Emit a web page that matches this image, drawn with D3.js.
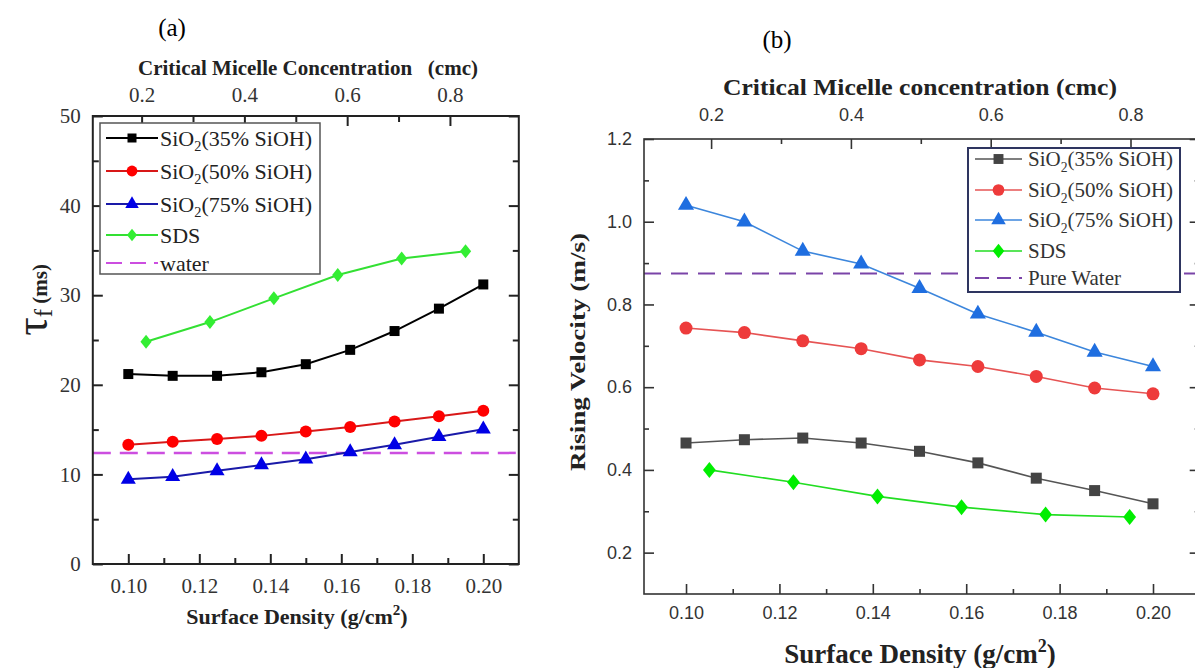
<!DOCTYPE html>
<html>
<head>
<meta charset="utf-8">
<script src="https://cdn.jsdelivr.net/npm/d3@7"></script>
<style>
  body { margin: 0; background: #fff; }
  svg { display: block; }
</style>
</head>
<body>
<div id="chart"></div>
<script>
// x positions (surface density, g/cm2)
const densityX = [0.1, 0.1125, 0.125, 0.1375, 0.15, 0.1625, 0.175, 0.1875, 0.2];
const sdsX = [0.105, 0.123, 0.141, 0.159, 0.177, 0.195];

// panel (a): tau_f (ms)
const tauSiO2_35 = [21.2, 21.0, 21.0, 21.4, 22.3, 23.9, 26.0, 28.5, 31.2];
const tauSiO2_50 = [13.3, 13.65, 13.95, 14.3, 14.8, 15.3, 15.9, 16.5, 17.1];
const tauSiO2_75 = [9.45, 9.75, 10.4, 11.05, 11.7, 12.5, 13.3, 14.2, 15.05];
const tauSDS = [24.8, 27.0, 29.65, 32.25, 34.1, 34.9];
const tauWater = 12.4;

// panel (b): rising velocity (m/s)
const velSiO2_35 = [0.465, 0.473, 0.477, 0.465, 0.445, 0.417, 0.38, 0.35, 0.318];
const velSiO2_50 = [0.743, 0.732, 0.712, 0.693, 0.666, 0.65, 0.626, 0.598, 0.584];
const velSiO2_75 = [1.04, 1.0, 0.929, 0.898, 0.839, 0.777, 0.733, 0.685, 0.65];
const velSDS = [0.40, 0.37, 0.336, 0.31, 0.292, 0.286];
const velWater = 0.875;

// ticks
const densityTicks = [0.10, 0.12, 0.14, 0.16, 0.18, 0.20];
const densityMinor = [0.11, 0.13, 0.15, 0.17, 0.19];
const cmcTicks = [0.2, 0.4, 0.6, 0.8];
const cmcMinor = [0.3, 0.5, 0.7];
const tauTicks = [0, 10, 20, 30, 40, 50];
const tauMinor = [5, 15, 25, 35, 45];
const velTicks = [0.2, 0.4, 0.6, 0.8, 1.0, 1.2];
const velMinor = [0.3, 0.5, 0.7, 0.9, 1.1];

const seriesNames = ["35% SiOH", "50% SiOH", "75% SiOH"];

const serif = "'Liberation Serif', 'Times New Roman', serif";
const sans = "'Liberation Sans', Arial, sans-serif";

const svg = d3.select("#chart").append("svg")
    .attr("width", 1195)
    .attr("height", 668);

function drawMarker(sel, shape, size, fill) {
    if (shape === "square") {
        sel.append("rect").attr("x", -size / 2).attr("y", -size / 2)
            .attr("width", size).attr("height", size).attr("fill", fill);
    } else if (shape === "circle") {
        sel.append("circle").attr("r", size / 2).attr("fill", fill);
    } else if (shape === "triangle") {
        const s = d3.symbol().type(d3.symbolTriangle).size(size * size * 0.5);
        sel.append("path").attr("d", s()).attr("fill", fill);
    } else {
        const h = size / 2;
        sel.append("path").attr("d", `M0,${-h}L${h * 0.8},0L0,${h}L${-h * 0.8},0Z`).attr("fill", fill);
    }
}

function drawAxes(g, x, y, top, o) {
    const [x0, x1] = x.range();
    const [y0, y1] = y.range();

    // bottom
    g.append("g").attr("transform", `translate(0,${y0})`)
        .call(d3.axisBottom(x).tickValues(densityTicks).tickSize(-o.major).tickPadding(o.padB)
            .tickFormat(d3.format(".2f")).tickSizeOuter(0))
        .call(a => a.select(".domain").remove());
    g.append("g").attr("transform", `translate(0,${y0})`)
        .call(d3.axisBottom(x).tickValues(densityMinor).tickSize(-o.minor).tickFormat("").tickSizeOuter(0))
        .call(a => a.select(".domain").remove());
    // top
    g.append("g").attr("transform", `translate(0,${y1})`)
        .call(d3.axisTop(top).tickValues(cmcTicks).tickSize(-o.major).tickPadding(o.padT)
            .tickFormat(d3.format(".1f")).tickSizeOuter(0))
        .call(a => a.select(".domain").remove());
    g.append("g").attr("transform", `translate(0,${y1})`)
        .call(d3.axisTop(top).tickValues(cmcMinor).tickSize(-o.minor).tickFormat("").tickSizeOuter(0))
        .call(a => a.select(".domain").remove());
    // left
    g.append("g").attr("transform", `translate(${x0},0)`)
        .call(d3.axisLeft(y).tickValues(o.yTicks).tickSize(-o.major).tickPadding(o.padL)
            .tickFormat(o.yFormat).tickSizeOuter(0))
        .call(a => a.select(".domain").remove());
    g.append("g").attr("transform", `translate(${x0},0)`)
        .call(d3.axisLeft(y).tickValues(o.yMinor).tickSize(-o.minor).tickFormat("").tickSizeOuter(0))
        .call(a => a.select(".domain").remove());
    // right
    g.append("g").attr("transform", `translate(${x1},0)`)
        .call(d3.axisRight(y).tickValues(o.yTicks).tickSize(-o.major).tickFormat("").tickSizeOuter(0))
        .call(a => a.select(".domain").remove());
    g.append("g").attr("transform", `translate(${x1},0)`)
        .call(d3.axisRight(y).tickValues(o.yMinor).tickSize(-o.minor).tickFormat("").tickSizeOuter(0))
        .call(a => a.select(".domain").remove());

    g.selectAll(".tick line").attr("stroke", o.frameColor).attr("stroke-width", o.frameWidth);
    g.selectAll(".tick text")
        .style("font-family", o.tickFont).style("font-size", o.tickSize + "px")
        .attr("fill", "#333");

    g.append("rect")
        .attr("x", x0).attr("y", y1)
        .attr("width", x1 - x0).attr("height", y0 - y1)
        .attr("fill", "none").attr("stroke", o.frameColor).attr("stroke-width", o.frameWidth);
}

function drawSeries(g, x, y, xs, ys, s) {
    const pts = xs.map((d, i) => [d, ys[i]]);
    g.append("path")
        .datum(pts)
        .attr("fill", "none")
        .attr("stroke", s.line)
        .attr("stroke-width", s.width)
        .attr("d", d3.line().x(d => x(d[0])).y(d => y(d[1])));
    g.selectAll(null).data(pts).enter().append("g")
        .attr("transform", d => `translate(${x(d[0])},${y(d[1])})`)
        .each(function () { drawMarker(d3.select(this), s.shape, s.size, s.fill); });
}

function legendLabel(text, label, name, fontSize) {
    if (name) {
        text.append("tspan").text("SiO");
        text.append("tspan").text("2").style("font-size", fontSize * 0.65 + "px").attr("dy", fontSize * 0.25);
        text.append("tspan").text(`(${name})`).attr("dy", -fontSize * 0.25);
    } else {
        text.text(label);
    }
}

function drawLegend(g, lg, series) {
    g.append("rect")
        .attr("x", lg.x).attr("y", lg.y).attr("width", lg.w).attr("height", lg.h)
        .attr("fill", "#fff").attr("stroke", lg.border).attr("stroke-width", lg.borderWidth);
    series.forEach((s, i) => {
        const yy = lg.rows[i];
        const row = g.append("g");
        row.append("line")
            .attr("x1", lg.lineX[0]).attr("x2", lg.lineX[1]).attr("y1", yy).attr("y2", yy)
            .attr("stroke", s.line).attr("stroke-width", s.width)
            .attr("stroke-dasharray", s.dash || null);
        if (s.shape) {
            const m = row.append("g").attr("transform", `translate(${(lg.lineX[0] + lg.lineX[1]) / 2},${yy})`);
            drawMarker(m, s.shape, s.size * 0.9, s.fill);
        }
        const t = row.append("text")
            .attr("x", lg.textX).attr("y", yy)
            .attr("dy", "0.35em")
            .style("font-family", serif).style("font-size", lg.fontSize + "px")
            .attr("fill", lg.textColor);
        legendLabel(t, s.label, s.name, lg.fontSize);
    });
}

// ---------- panel (a) ----------
const ga = svg.append("g");
const xa = d3.scaleLinear().domain([0.09, 0.21]).range([92.8, 518.8]);
const ya = d3.scaleLinear().domain([0, 50]).range([564, 116]);
const ta = d3.scaleLinear().domain([0.105, 0.934]).range([92.8, 518.8]);

const seriesA = [
    { name: seriesNames[0], line: "#000", fill: "#000", shape: "square", size: 10, width: 2, ys: tauSiO2_35, xs: densityX },
    { name: seriesNames[1], line: "#d81818", fill: "#ff0000", shape: "circle", size: 12, width: 2, ys: tauSiO2_50, xs: densityX },
    { name: seriesNames[2], line: "#1a1aa8", fill: "#0000e6", shape: "triangle", size: 14, width: 2, ys: tauSiO2_75, xs: densityX },
    { label: "SDS", line: "#33e033", fill: "#33ee33", shape: "diamond", size: 14, width: 2, ys: tauSDS, xs: sdsX }
];

ga.append("line")
    .attr("x1", xa.range()[0]).attr("x2", xa.range()[1])
    .attr("y1", ya(tauWater)).attr("y2", ya(tauWater))
    .attr("stroke", "#cc4ee0").attr("stroke-width", 2.5).attr("stroke-dasharray", "18,9");

seriesA.forEach(s => drawSeries(ga, xa, ya, s.xs, s.ys, s));

drawAxes(ga, xa, ya, ta, {
    major: 10, minor: 6, padB: 14, padT: 14, padL: 12, frameColor: "#222", frameWidth: 2,
    tickFont: serif, tickSize: 21, yTicks: tauTicks, yMinor: tauMinor, yFormat: d3.format("d")
});

drawLegend(ga, {
    x: 100, y: 123, w: 220, h: 151, border: "#555", borderWidth: 1.5,
    rows: [138, 171, 204, 235, 263], lineX: [106, 158], textX: 160, fontSize: 22, textColor: "#222"
}, seriesA.concat([{ label: "water", line: "#cc4ee0", width: 2, dash: "16,8" }]));

ga.append("text").attr("x", 172).attr("y", 36).attr("text-anchor", "middle")
    .style("font-family", serif).style("font-size", "25px").text("(a)");
ga.append("text").attr("x", 308).attr("y", 75).attr("text-anchor", "middle")
    .style("font-family", serif).style("font-size", "20px").attr("font-weight", "bold")
    .attr("xml:space", "preserve").attr("fill", "#222")
    .attr("textLength", 340).attr("lengthAdjust", "spacingAndGlyphs")
    .text("Critical Micelle Concentration   (cmc)");
const xlabA = ga.append("text").attr("x", 297).attr("y", 624).attr("text-anchor", "middle")
    .style("font-family", serif).style("font-size", "22px").attr("font-weight", "bold").attr("fill", "#222");
xlabA.append("tspan").text("Surface Density (g/cm");
xlabA.append("tspan").text("2").style("font-size", "15px").attr("dy", -9);
xlabA.append("tspan").text(")").attr("dy", 9);

const ylabA = ga.append("text")
    .attr("transform", "translate(47,300) rotate(-90)")
    .attr("text-anchor", "middle")
    .style("font-family", serif).attr("fill", "#222");
ylabA.append("tspan").text("τ").style("font-size", "46px");
ylabA.append("tspan").text("f").style("font-size", "25px").attr("dy", 5);
ylabA.append("tspan").text(" (ms)").style("font-size", "21px").attr("font-weight", "bold").attr("dy", -5);

// ---------- panel (b) ----------
const gb = svg.append("g");
const xb = d3.scaleLinear().domain([0.091, 0.21]).range([644, 1199.7]);
const yb = d3.scaleLinear().domain([0.1, 1.2]).range([594, 139]);
const tb = d3.scaleLinear().domain([0.104, 0.899]).range([644, 1199.7]);

const seriesB = [
    { name: seriesNames[0], line: "#555", fill: "#444", shape: "square", size: 11, width: 1.6, ys: velSiO2_35, xs: densityX },
    { name: seriesNames[1], line: "#e65454", fill: "#ee3b3b", shape: "circle", size: 13, width: 1.6, ys: velSiO2_50, xs: densityX },
    { name: seriesNames[2], line: "#3c86dc", fill: "#1f6ee0", shape: "triangle", size: 15, width: 1.6, ys: velSiO2_75, xs: densityX },
    { label: "SDS", line: "#22dd22", fill: "#00ee00", shape: "diamond", size: 16, width: 1.6, ys: velSDS, xs: sdsX }
];

gb.append("line")
    .attr("x1", xb.range()[0]).attr("x2", xb.range()[1])
    .attr("y1", yb(velWater)).attr("y2", yb(velWater))
    .attr("stroke", "#7a44a8").attr("stroke-width", 2).attr("stroke-dasharray", "17,10");

seriesB.forEach(s => drawSeries(gb, xb, yb, s.xs, s.ys, s));

drawAxes(gb, xb, yb, tb, {
    major: 10, minor: 5, padB: 12, padT: 18, padL: 12, frameColor: "#333", frameWidth: 1.6,
    tickFont: sans, tickSize: 18, yTicks: velTicks, yMinor: velMinor, yFormat: d3.format(".1f")
});

drawLegend(gb, {
    x: 968, y: 148, w: 212, h: 144, border: "#2e3560", borderWidth: 2,
    rows: [159, 190, 220, 251, 278], lineX: [975, 1022], textX: 1028, fontSize: 21, textColor: "#333"
}, seriesB.concat([{ label: "Pure Water", line: "#7a44a8", width: 2, dash: "14,8" }]));

gb.append("text").attr("x", 777).attr("y", 48).attr("text-anchor", "middle")
    .style("font-family", serif).style("font-size", "25px").text("(b)");
gb.append("text").attr("x", 920).attr("y", 95).attr("text-anchor", "middle")
    .style("font-family", serif).style("font-size", "23px").attr("font-weight", "bold").attr("fill", "#222")
    .attr("textLength", 394).attr("lengthAdjust", "spacingAndGlyphs")
    .text("Critical Micelle concentration (cmc)");
const xlabB = gb.append("text").attr("x", 920).attr("y", 663).attr("text-anchor", "middle")
    .style("font-family", serif).style("font-size", "27px").attr("font-weight", "bold").attr("fill", "#222");
xlabB.append("tspan").text("Surface Density (g/cm");
xlabB.append("tspan").text("2").style("font-size", "18px").attr("dy", -11);
xlabB.append("tspan").text(")").attr("dy", 11);

gb.append("text")
    .attr("transform", "translate(585,352) rotate(-90)")
    .attr("text-anchor", "middle")
    .style("font-family", serif).style("font-size", "20px").attr("font-weight", "bold").attr("fill", "#222")
    .attr("textLength", 238).attr("lengthAdjust", "spacingAndGlyphs")
    .text("Rising Velocity (m/s)");
</script>
</body>
</html>
